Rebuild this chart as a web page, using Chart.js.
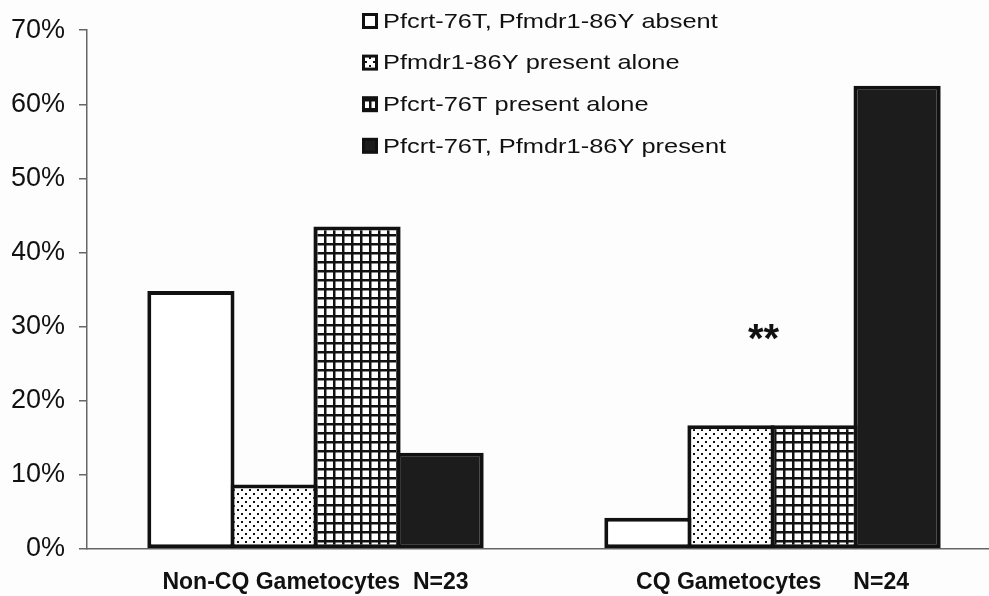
<!DOCTYPE html>
<html>
<head>
<meta charset="utf-8">
<script src="https://cdn.jsdelivr.net/npm/chart.js@4.4.1/dist/chart.umd.min.js"></script>
<style>
  html, body { margin: 0; padding: 0; background: #fdfdfd; overflow: hidden; }
  #wrap { width: 1001px; height: 596px; }
</style>
</head>
<body>
<div id="wrap"><canvas id="chart"></canvas></div>
<script>
const groups = ["Non-CQ Gametocytes  N=23", "CQ Gametocytes     N=24"];
const seriesNames = [
    "Pfcrt-76T, Pfmdr1-86Y absent",
    "Pfmdr1-86Y present alone",
    "Pfcrt-76T present alone",
    "Pfcrt-76T, Pfmdr1-86Y present"
];
const absent = [34.8, 4.2];
const mdrAlone = [8.7, 16.7];
const crtAlone = [43.5, 16.7];
const bothPresent = [13.0, 62.5];
const yTicks = [0, 10, 20, 30, 40, 50, 60, 70];
const starText = "**";
const starValue = 29.3;

function makeDots() {
    const c = document.createElement("canvas");
    c.width = 8; c.height = 8;
    const g = c.getContext("2d");
    g.fillStyle = "#ffffff";
    g.fillRect(0, 0, 8, 8);
    g.fillStyle = "#111111";
    g.fillRect(1, 1, 2, 2);
    g.fillRect(5, 5, 2, 2);
    return g.createPattern(c, "repeat");
}

function makeGrid() {
    const c = document.createElement("canvas");
    c.width = 9; c.height = 9;
    const g = c.getContext("2d");
    g.fillStyle = "#111111";
    g.fillRect(0, 0, 9, 9);
    g.fillStyle = "#ffffff";
    g.fillRect(2.5, 2.5, 6.5, 6.5);
    return g.createPattern(c, "repeat");
}

const fills = ["#ffffff", makeDots(), makeGrid(), "#1c1c1c"];
const values = [absent, mdrAlone, crtAlone, bothPresent];
const FONT = "'Liberation Sans', Arial, sans-serif";

const extras = {
    id: "extras",
    afterDraw(chart) {
        const ctx = chart.ctx;
        ctx.save();
        // legend
        ctx.font = "21px " + FONT;
        ctx.textBaseline = "middle";
        ctx.textAlign = "left";
        chart.data.datasets.forEach((ds, i) => {
            const y = 21 + i * 41.6;
            ctx.fillStyle = "#111";
            ctx.fillRect(362, y - 8, 16, 16);
            ctx.fillStyle = ds.backgroundColor;
            ctx.fillRect(365, y - 5, 10, 10);
            ctx.save();
            ctx.translate(383, y + 1);
            ctx.scale(1.21, 1);
            ctx.fillStyle = "#111";
            ctx.fillText(ds.label, 0, 0);
            ctx.restore();
        });
        // significance mark
        const xs = chart.scales.x, ys = chart.scales.y;
        ctx.font = "bold 40px " + FONT;
        ctx.textAlign = "center";
        ctx.fillStyle = "#111";
        ctx.fillText(starText, xs.getPixelForValue(1) - 9, ys.getPixelForValue(starValue) + 9);
        ctx.restore();
    }
};

new Chart(document.getElementById("chart"), {
    type: "bar",
    data: {
        labels: groups,
        datasets: seriesNames.map((name, i) => ({
            label: name,
            data: values[i],
            backgroundColor: fills[i],
            borderColor: "#111111",
            borderWidth: 4,
            borderSkipped: false,
            barPercentage: 1.05,
            categoryPercentage: 0.727
        }))
    },
    options: {
        responsive: true,
        maintainAspectRatio: false,
        animation: false,
        layout: { padding: { left: 12, top: 17, right: 0, bottom: 0 } },
        plugins: { legend: { display: false }, tooltip: { enabled: false } },
        scales: {
            x: {
                afterFit: axis => { axis.height = 47; },
                grid: { display: false },
                border: { display: true, color: "#666", width: 1.5 },
                ticks: {
                    padding: 12,
                    maxRotation: 0,
                    minRotation: 0,
                    autoSkip: false,
                    color: "#111",
                    font: { family: FONT, size: 23, weight: "bold" }
                }
            },
            y: {
                min: 0,
                max: 70,
                afterFit: axis => { axis.width = 75; },
                afterBuildTicks: axis => { axis.ticks = yTicks.map(v => ({ value: v })); },
                grid: { drawOnChartArea: false, tickLength: 8, color: "#666", lineWidth: 1.5 },
                border: { display: true, color: "#666", width: 1.5 },
                ticks: {
                    padding: 14,
                    color: "#111",
                    font: { family: FONT, size: 27 },
                    callback: v => v + "%"
                }
            }
        }
    },
    plugins: [extras]
});
</script>
</body>
</html>
